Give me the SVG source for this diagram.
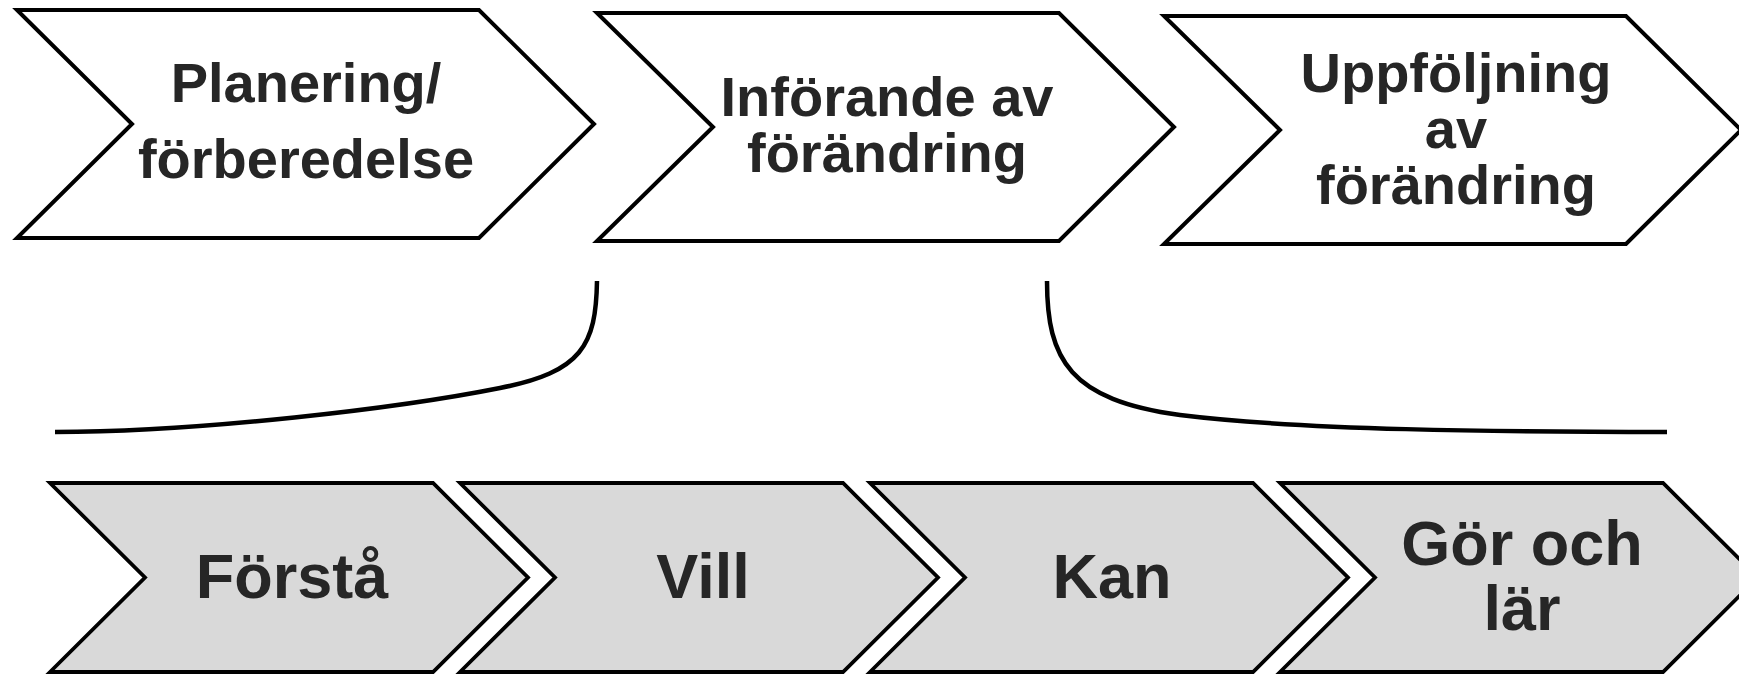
<svg xmlns="http://www.w3.org/2000/svg" width="1739" height="674" viewBox="0 0 1739 674">
<style>
.top{fill:#ffffff;stroke:#000;stroke-width:4;stroke-linejoin:miter}
.bot{fill:#d9d9d9;stroke:#000;stroke-width:3.8;stroke-linejoin:miter}
.lbl{font-family:"Liberation Sans",Arial,sans-serif;font-weight:bold;fill:#262626;text-anchor:middle}
.t{font-size:56px}
.b{font-size:63px}
.brace{fill:none;stroke:#000;stroke-width:4.5;stroke-linecap:butt}
</style>
<rect width="1739" height="674" fill="#ffffff"/>
<g id="connectors">
<path class="brace" d="M597,281 C596,345 582,372 500,388 C400,408 200,432 55,432"/>
<path class="brace" d="M1047,281 C1047,360 1070,400 1180,415 C1300,430 1500,432 1667,432"/>
</g>
<g id="planering">
<path class="top" d="M17,10 L479,10 L594,124 L479,238 L17,238 L132,124 Z"/>
<text class="lbl t" x="306" y="102">Planering/</text>
<text class="lbl t" x="306" y="178">förberedelse</text>
</g>
<g id="inforande">
<path class="top" d="M597,13 L1059,13 L1174,127 L1059,241 L597,241 L713,127 Z"/>
<text class="lbl t" x="887" y="116">Införande av</text>
<text class="lbl t" x="887" y="172">förändring</text>
</g>
<g id="uppfoljning">
<path class="top" d="M1164,16 L1626,16 L1741,130 L1626,244 L1164,244 L1280,130 Z"/>
<text class="lbl t" x="1456" y="92">Uppföljning</text>
<text class="lbl t" x="1456" y="148">av</text>
<text class="lbl t" x="1456" y="204">förändring</text>
</g>
<g id="forsta">
<path class="bot" d="M50,483 L433,483 L528,577.5 L433,672 L50,672 L145,577.5 Z"/>
<text class="lbl b" x="292" y="598">Förstå</text>
</g>
<g id="vill">
<path class="bot" d="M460,483 L843,483 L938,577.5 L843,672 L460,672 L555,577.5 Z"/>
<text class="lbl b" x="703" y="598">Vill</text>
</g>
<g id="kan">
<path class="bot" d="M870,483 L1253,483 L1348,577.5 L1253,672 L870,672 L965,577.5 Z"/>
<text class="lbl b" x="1112" y="598">Kan</text>
</g>
<g id="gor">
<path class="bot" d="M1280,483 L1663,483 L1758,577.5 L1663,672 L1280,672 L1375,577.5 Z"/>
<text class="lbl b" x="1522" y="565">Gör och</text>
<text class="lbl b" x="1522" y="630">lär</text>
</g>
</svg>
